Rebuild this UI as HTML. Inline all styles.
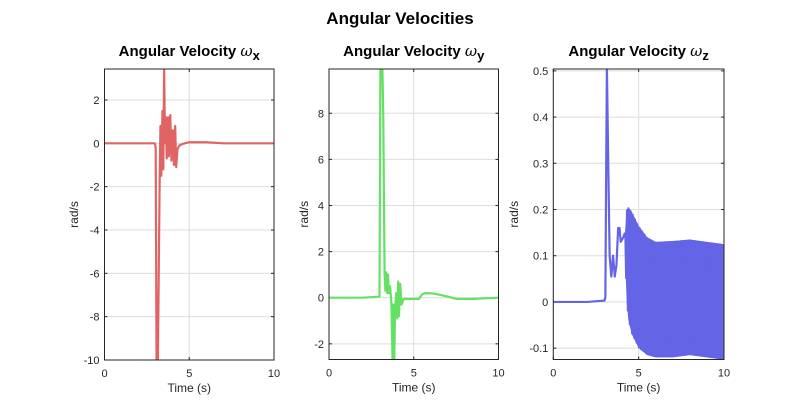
<!DOCTYPE html>
<html><head><meta charset="utf-8"><style>
body{margin:0;background:#fff;}
svg{display:block;font-family:"Liberation Sans",sans-serif;}
</style></head><body>
<svg id="fig" width="800" height="400" viewBox="0 0 800 400">
<rect width="800" height="400" fill="#fff"/>
<text x="400" y="24" text-anchor="middle" font-size="17" font-weight="bold" fill="#000">Angular Velocities</text>
</svg>
<script>
// ---- data ----
const xTimes = [0,1,2,2.97,3.02,3.07,3.15,3.2,3.25,3.3,3.35,3.42,3.47,3.52,3.57,3.62,3.67,3.75,3.8,3.88,3.95,4.03,4.1,4.17,4.23,4.3,4.35,4.42,4.6,5,6,7,8,9,10];
const xVals  = [0,0,0,0,-0.2,-10,-10,-6,-2,0.8,-1.5,1.5,-1.2,3.4,0,1.2,-0.7,1.2,-0.6,1.3,-0.8,0.6,-1.0,0.8,-1.1,-0.3,-0.2,-0.1,-0.03,0.05,0.05,0,0,0,0];
const yTimes = [0,1,2,2.98,3.03,3.08,3.15,3.2,3.28,3.33,3.38,3.43,3.48,3.53,3.6,3.68,3.75,3.8,3.85,3.9,3.97,4.03,4.08,4.13,4.2,4.28,4.4,5.3,5.5,5.7,6.2,7,7.5,8.5,10];
const yVals  = [0,0,0,0.05,9.9,9.9,9.9,8,1,0.3,1.1,0.2,1.0,0.2,0.5,-0.2,-2.7,-0.3,-2.7,-0.5,0.2,-0.9,0.7,-0.8,0.6,-0.3,-0.05,-0.05,0.15,0.2,0.18,0.05,-0.05,-0.05,0];
const zTimes = [0,1,2,3.0,3.05,3.1,3.14,3.2,3.3,3.4,3.5,3.6,3.7,3.8,3.88,3.95,4.1,4.2];
const zVals  = [0,0,0,0.003,0.01,0.3,0.51,0.35,0.1,0.055,0.1,0.055,0.08,0.16,0.16,0.13,0.14,0.15];
const zBandTimes = [4.2,4.3,4.4,4.6,5,5.5,6,7,8,9,10];
const zBandUpper = [0.15,0.2,0.205,0.195,0.165,0.14,0.13,0.132,0.135,0.13,0.125];
const zBandLower = [0.1,0.0,-0.04,-0.07,-0.1,-0.115,-0.12,-0.12,-0.115,-0.12,-0.125];
const xTickLabels = ["0","5","10"];
const yTicksX = [2,0,-2,-4,-6,-8,-10];
const yTicksY = [8,6,4,2,0,-2];
const yTicksZ = [0.5,0.4,0.3,0.2,0.1,0,-0.1];

const svg = document.getElementById('fig');
const NS = 'http://www.w3.org/2000/svg';
function mk(tag, attrs, parent){const e=document.createElementNS(NS,tag);for(const k in attrs)e.setAttribute(k,attrs[k]);(parent||svg).appendChild(e);return e;}

const panels = [
 {key:'x',L:104.5,R:274,T:69,B:360,ymin:-10,ymax:3.43,ticks:yTicksX,fmt:v=>String(v),color:'#e06464',t:xTimes,v:xVals,ylx:78},
 {key:'y',L:329,R:498.5,T:69,B:359.5,ymin:-2.68,ymax:9.92,ticks:yTicksY,fmt:v=>String(v),color:'#64e064',t:yTimes,v:yVals,ylx:308},
 {key:'z',L:553.3,R:724,T:69,B:359.5,ymin:-0.1245,ymax:0.504,ticks:yTicksZ,fmt:v=>String(v),color:'#6464e6',t:zTimes,v:zVals,ylx:518}
];

panels.forEach(p=>{
  const g = mk('g',{});
  
  
  const sx = t=>p.L+(t/10)*(p.R-p.L);
  const sy = v=>p.B-(v-p.ymin)/(p.ymax-p.ymin)*(p.B-p.T);
  // grid
  [0,5,10].forEach((t,i)=>{
    const l=mk('line',{x1:sx(t),x2:sx(t),y1:p.T,y2:p.B,stroke:'#dedede','stroke-width':1},g);
    
    const tx=mk('text',{x:sx(t),y:p.B+17,'text-anchor':'middle','font-size':11,fill:'#262626'},g);
    tx.textContent=xTickLabels[i];
    
  });
  p.ticks.forEach(v=>{
    const y=sy(v);
    const l=mk('line',{x1:p.L,x2:p.R,y1:y,y2:y,stroke:'#dedede','stroke-width':1},g);
    
    mk('line',{x1:p.L,x2:p.L+3,y1:y,y2:y,stroke:'#262626','stroke-width':1},g);
    mk('line',{x1:p.R,x2:p.R-3,y1:y,y2:y,stroke:'#262626','stroke-width':1},g);
    const tx=mk('text',{x:p.L-5,y:y+4,'text-anchor':'end','font-size':11,fill:'#262626'},g);
    tx.textContent=p.fmt(v);
    
  });
  // clip
  const cp=mk('clipPath',{id:'clip'+p.key},g);
  mk('rect',{x:p.L,y:p.T,width:p.R-p.L,height:p.B-p.T},cp);
  const dg=mk('g',{'clip-path':'url(#clip'+p.key+')'},g);
  // band for z
  if(p.key==='z'){
    let pts=[];
    let k=0;
    for(let i=0;i<zBandTimes.length-1;i++){
      const t0=zBandTimes[i],t1=zBandTimes[i+1];
      const n=Math.max(2,Math.round((sx(t1)-sx(t0))/1.2));
      for(let j=0;j<n;j++){
        const f=j/n,t=t0+(t1-t0)*f;
        const u=zBandUpper[i]+(zBandUpper[i+1]-zBandUpper[i])*f;
        const lo=zBandLower[i]+(zBandLower[i+1]-zBandLower[i])*f;
        pts.push(sx(t).toFixed(2)+','+sy(k%2?lo:u).toFixed(2));k++;
      }
    }
    const bp=mk('polygon',{points:zBandTimes.map((t,i)=>sx(t)+','+sy(zBandUpper[i])).concat(zBandTimes.slice().reverse().map((t,i)=>sx(t)+','+sy(zBandLower[zBandLower.length-1-i]))).join(' '),fill:p.color},dg);
    
    const zz=mk('polyline',{points:pts.join(' '),fill:'none',stroke:p.color,'stroke-width':1.5},dg);
    
  }
  const line=mk('polyline',{points:p.t.map((t,i)=>sx(t).toFixed(2)+','+sy(p.v[i]).toFixed(2)).join(' '),fill:'none',stroke:p.color,'stroke-width':2.2,'stroke-linejoin':'round'},dg);
  
  // box
  const box=mk('rect',{x:p.L,y:p.T,width:p.R-p.L,height:p.B-p.T,fill:'none',stroke:'#262626','stroke-width':1},g);
  
  // x ticks marks
  [0,5,10].forEach(t=>{mk('line',{x1:sx(t),x2:sx(t),y1:p.B,y2:p.B-3,stroke:'#262626'},g);mk('line',{x1:sx(t),x2:sx(t),y1:p.T,y2:p.T+3,stroke:'#262626'},g);});
  // labels
  const xl=mk('text',{x:(p.L+p.R)/2,y:p.B+32,'text-anchor':'middle','font-size':12,fill:'#262626'},g);
  xl.textContent='Time (s)';
  
  const yl=mk('text',{x:p.ylx,y:(p.T+p.B)/2,'text-anchor':'middle','font-size':12,fill:'#262626',transform:'rotate(-90 '+p.ylx+' '+(p.T+p.B)/2+')'},g);
  yl.textContent='rad/s';
  
  const tt=mk('text',{x:(p.L+p.R)/2,y:56,'text-anchor':'middle','font-size':15,'font-weight':'bold',fill:'#000'},g);
  
  const s1=mk('tspan',{},tt);s1.textContent='Angular Velocity ';
  const s2=mk('tspan',{'font-family':'"DejaVu Serif",serif','font-style':'italic','font-weight':'normal'},tt);s2.textContent='ω';
  const s3=mk('tspan',{dy:4,'font-size':13},tt);s3.textContent=p.key;
});
</script>
</body></html>
